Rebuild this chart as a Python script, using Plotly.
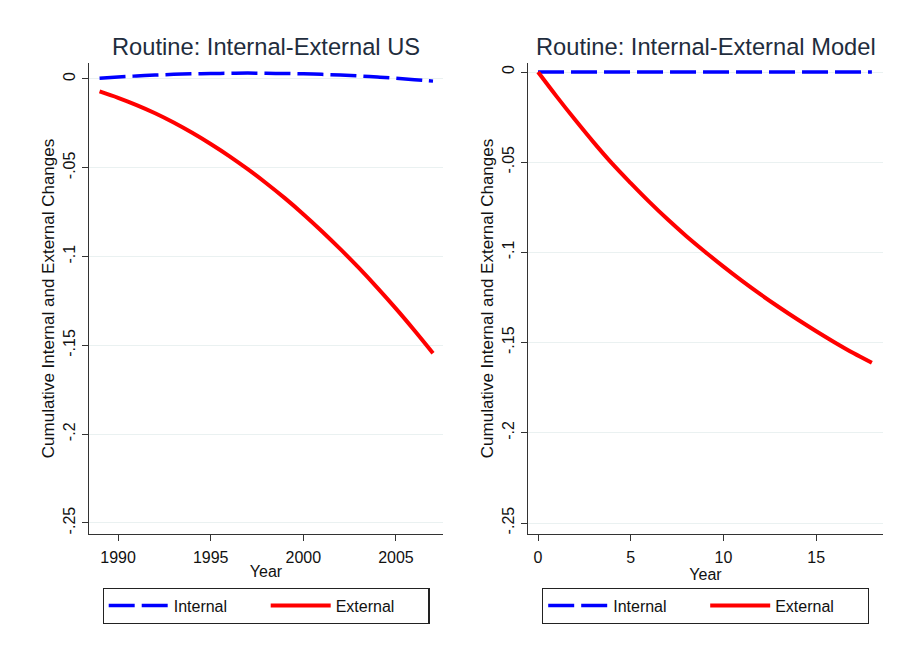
import plotly.graph_objects as go

# ---- data ----
years_us = list(range(1989, 2008))
internal_us = [0.0004, 0.0011, 0.0017, 0.0022, 0.0026, 0.0029, 0.0031, 0.0032, 0.0033, 0.0032,
               0.0031, 0.0029, 0.0026, 0.0022, 0.0017, 0.0011, 0.0004, -0.0004, -0.0012]
external_us = [-0.0070, -0.0106, -0.0147, -0.0193, -0.0245, -0.0303, -0.0366, -0.0434, -0.0508, -0.0587,
               -0.0671, -0.0761, -0.0857, -0.0958, -0.1064, -0.1176, -0.1293, -0.1416, -0.1544]

years_model = list(range(0, 19))
internal_model = [0.0] * 19
external_model = [0.0, -0.0135, -0.0265, -0.0390, -0.0508, -0.0616, -0.0720, -0.0818, -0.0910, -0.0996,
                  -0.1079, -0.1158, -0.1233, -0.1304, -0.1372, -0.1437, -0.1499, -0.1558, -0.1612]

y_tickvals = [0, -0.05, -0.1, -0.15, -0.2, -0.25]
y_ticktext = ["0", "-.05", "-.1", "-.15", "-.2", "-.25"]
x_tickvals_us = [1990, 1995, 2000, 2005]
x_tickvals_model = [0, 5, 10, 15]

titles = ["Routine: Internal-External US", "Routine: Internal-External Model"]
ytitle = "Cumulative Internal and External Changes"

FONT = "Liberation Sans, Arial, sans-serif"
BLUE = "#0000ff"
RED = "#ff0000"
TITLE_COL = "#1f2d3d"

fig = go.Figure()

fig.add_trace(go.Scatter(x=years_us, y=internal_us, mode="lines", name="Internal",
                         line=dict(color=BLUE, width=3.5, dash="26px,7px", shape="spline"),
                         xaxis="x", yaxis="y", legend="legend"))
fig.add_trace(go.Scatter(x=years_us, y=external_us, mode="lines", name="External",
                         line=dict(color=RED, width=4, shape="spline"),
                         xaxis="x", yaxis="y", legend="legend"))
fig.add_trace(go.Scatter(x=years_model, y=internal_model, mode="lines", name="Internal",
                         line=dict(color=BLUE, width=3.5, dash="26px,7px"),
                         xaxis="x2", yaxis="y2", legend="legend2"))
fig.add_trace(go.Scatter(x=years_model, y=external_model, mode="lines", name="External",
                         line=dict(color=RED, width=4, shape="spline"),
                         xaxis="x2", yaxis="y2", legend="legend2"))

W, H = 902, 656
OFF = 8  # page body margin offset
def px(v):
    return (v - OFF) / W
def py(v):
    return 1 - (v - OFF) / H

ydom = [py(534), py(63)]

axis_common = dict(showline=True, linecolor="#333333", linewidth=1.3, ticks="outside",
                   ticklen=6, tickcolor="#333333", tickfont=dict(family=FONT, size=16, color="#111111"),
                   zeroline=False, mirror=False, automargin=False)

xcommon = dict(axis_common, showgrid=False, ticklabelstandoff=3,
               title=dict(text="Year", font=dict(family=FONT, size=16, color="#111111"), standoff=0))
ycommon = dict(axis_common, showgrid=True, gridcolor="#eaf1f1", gridwidth=1,
               tickvals=y_tickvals, ticktext=y_ticktext, tickangle=-90,
               title=dict(text=ytitle, font=dict(family=FONT, size=17, color="#111111"), standoff=2))

legend_common = dict(orientation="h", xanchor="center", yanchor="middle",
                     bordercolor="#222222", borderwidth=1.2, bgcolor="white",
                     font=dict(family=FONT, size=16, color="#111111"),
                     entrywidth=87, itemwidth=60, tracegroupgap=0)

fig.update_layout(
    width=W, height=H,
    margin=dict(l=0, r=0, t=0, b=0, autoexpand=False),
    paper_bgcolor="white", plot_bgcolor="white",
    showlegend=True,
    xaxis=dict(xcommon, domain=[px(89), px(443)], range=[1988.43, 2007.54],
               tickvals=x_tickvals_us, anchor="y"),
    yaxis=dict(ycommon, domain=ydom, range=[-0.2562, 0.009], anchor="x"),
    xaxis2=dict(xcommon, domain=[px(528), px(883)], range=[-0.54, 18.6],
                tickvals=x_tickvals_model, anchor="y2"),
    yaxis2=dict(ycommon, domain=ydom, range=[-0.2561, 0.005], anchor="x2"),
    legend=dict(legend_common, x=px(266), y=py(606)),
    legend2=dict(legend_common, x=px(705.5), y=py(606)),
    annotations=[
        dict(text=titles[0], x=px(266), y=py(47), xref="paper", yref="paper",
             showarrow=False, xanchor="center", yanchor="middle",
             font=dict(family=FONT, size=23.7, color=TITLE_COL)),
        dict(text=titles[1], x=px(705.5), y=py(47), xref="paper", yref="paper",
             showarrow=False, xanchor="center", yanchor="middle",
             font=dict(family=FONT, size=23.7, color=TITLE_COL)),
    ],
)

fig.write_html("out.html")
